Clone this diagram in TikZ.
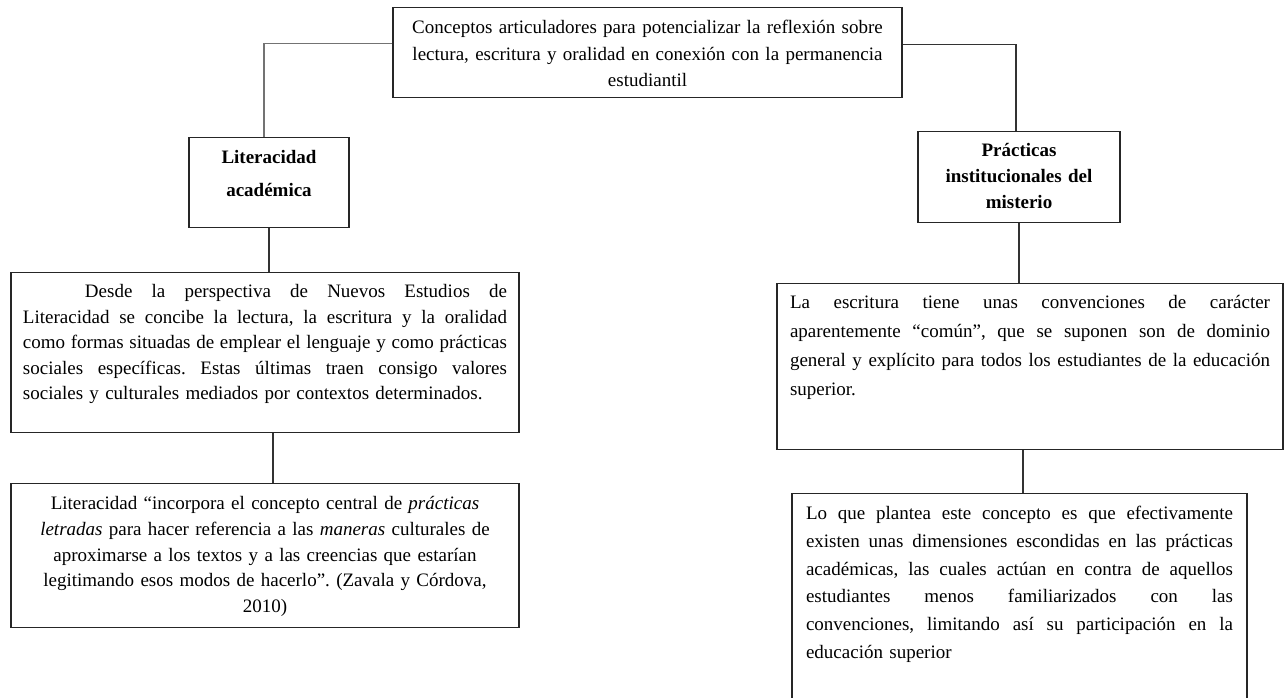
\documentclass[tikz,border=0pt]{standalone}
\usepackage{fontspec}
\setmainfont{Liberation Serif}
\usetikzlibrary{calc}
\frenchspacing
\newcommand{\jline}[2][484pt]{{\spaceskip=0.25em plus 1fil minus 0.08em\makebox[#1][s]{#2}}}
\tikzset{
	cbox/.style={draw=black!85,line width=1.1pt,anchor=north,inner ysep=0pt,inner xsep=12pt},
	link/.style={draw=black!80,line width=1.2pt},
}
\begin{document}
\begin{tikzpicture}[x=1pt,y=-1pt]
	\useasboundingbox (0,0) rectangle (1284,698);
	\clip (0,0) rectangle (1284,698);
	\node[cbox,text width=485pt,align=center,font=\fontsize{19}{26.5}\selectfont,text height=26pt,text depth=64pt] (top) at (647.5,7)
		{Conceptos articuladores para potencializar la reflexión sobre\\lectura, escritura y oralidad en conexión con la permanencia\\estudiantil};
	\node[cbox,text width=136pt,align=center,font=\fontsize{19}{33}\selectfont\bfseries,text height=26pt,text depth=64pt] (lit) at (269,137)
		{Literacidad\\académica};
	\node[cbox,text width=484pt,align=left,font=\fontsize{19}{25.6}\selectfont,text height=25pt,text depth=135pt] (desc) at (265,272)
		{\jline{\hspace*{62pt}Desde la perspectiva de Nuevos Estudios de}\\
		\jline{Literacidad se concibe la lectura, la escritura y la oralidad}\\
		\jline{como formas situadas de emplear el lenguaje y como prácticas}\\
		\jline{sociales específicas. Estas últimas traen consigo valores}\\
		sociales y culturales mediados por contextos determinados.};
	\node[cbox,text width=484pt,align=center,font=\fontsize{19}{25.8}\selectfont,text height=26pt,text depth=118pt] (quote) at (265,483)
		{Literacidad “incorpora el concepto central de \textit{prácticas}\\
		\textit{letradas} para hacer referencia a las \textit{maneras} culturales de\\
		aproximarse a los textos y a las creencias que estarían\\
		legitimando esos modos de hacerlo”. (Zavala y Córdova,\\
		2010)};
	\node[cbox,text width=178pt,align=center,font=\fontsize{19}{26}\selectfont\bfseries,text height=25pt,text depth=66pt] (prac) at (1019,131)
		{Prácticas\\institucionales del\\misterio};
	\node[cbox,inner xsep=13pt,text width=480pt,align=left,font=\fontsize{19}{29}\selectfont,text height=25pt,text depth=141pt] (conv) at (1030,283)
		{\jline[480pt]{La escritura tiene unas convenciones de carácter}\\
		\jline[480pt]{aparentemente “común”, que se suponen son de dominio}\\
		\jline[480pt]{general y explícito para todos los estudiantes de la educación}\\
		superior.};
	\node[cbox,inner xsep=14pt,text width=427pt,align=left,font=\fontsize{19}{27.8}\selectfont,text height=26pt,text depth=215pt] (dim) at (1019.5,493)
		{\jline[427pt]{Lo que plantea este concepto es que efectivamente}\\
		\jline[427pt]{existen unas dimensiones escondidas en las prácticas}\\
		\jline[427pt]{académicas, las cuales actúan en contra de aquellos}\\
		\jline[427pt]{estudiantes menos familiarizados con las}\\
		\jline[427pt]{convenciones, limitando así su participación en la}\\
		educación superior};
	\draw[link,draw=black!55] ($(top.north west)!0.4!(top.south west)$) -| ([xshift=-5pt]lit.north);
	\draw[link] ($(top.north east)!0.41!(top.south east)$) -| ([xshift=-3pt]prac.north);
	\draw[link] (lit.south) -- (lit.south |- desc.north);
	\draw[link] ([xshift=8pt]desc.south) -- ([xshift=8pt]desc.south |- quote.north);
	\draw[link] (prac.south) -- (prac.south |- conv.north);
	\draw[link] ([xshift=3.5pt]dim.north) -- ([xshift=3.5pt]dim.north |- conv.south);
\end{tikzpicture}
\end{document}
